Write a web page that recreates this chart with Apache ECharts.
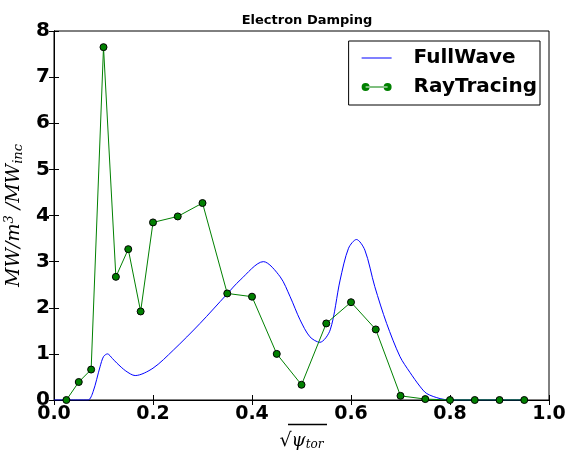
<!DOCTYPE html>
<html>
<head>
<meta charset="utf-8">
<script src="https://cdn.jsdelivr.net/npm/echarts@6/dist/echarts.min.js"></script>
<style>html,body{margin:0;padding:0;background:#fff;}#c{width:569px;height:455px;}</style>
</head>
<body>
<div id="c"></div>
<script>
const xTicks = [0.0, 0.2, 0.4, 0.6, 0.8, 1.0];
const yTicks = [0, 1, 2, 3, 4, 5, 6, 7, 8];

const fullWaveX = [0.0, 0.05, 0.069, 0.079, 0.093, 0.1, 0.108, 0.118, 0.127, 0.145, 0.164, 0.2, 0.241, 0.295, 0.349, 0.376, 0.423, 0.457, 0.477, 0.497, 0.517, 0.537, 0.558, 0.578, 0.595, 0.611, 0.628, 0.648, 0.672, 0.699, 0.719, 0.739, 0.753, 0.78, 0.8, 0.9, 0.95];
const fullWaveY = [0.0, 0.0, 0.0, 0.18, 0.72, 0.94, 1.0, 0.9, 0.8, 0.63, 0.53, 0.69, 1.08, 1.66, 2.29, 2.6, 3.0, 2.67, 2.24, 1.74, 1.37, 1.25, 1.52, 2.6, 3.29, 3.48, 3.25, 2.46, 1.66, 0.94, 0.6, 0.3, 0.14, 0.03, 0.0, 0.0, 0.0];

const rayX = [0.025, 0.05, 0.075, 0.1, 0.125, 0.15, 0.175, 0.2, 0.25, 0.3, 0.35, 0.4, 0.45, 0.5, 0.55, 0.6, 0.65, 0.7, 0.75, 0.8, 0.85, 0.9, 0.95];
const rayY = [0.0, 0.39, 0.66, 7.65, 2.67, 3.27, 1.92, 3.85, 3.98, 4.27, 2.31, 2.24, 1.0, 0.33, 1.66, 2.12, 1.53, 0.09, 0.02, 0.0, 0.0, 0.0, 0.0];

const chart = echarts.init(document.getElementById('c'), null, {renderer: 'canvas'});
const font = 'DejaVu Sans';
const axisCommon = {
  axisLine: {show: true, lineStyle: {color: '#000', width: 1}},
  axisTick: {show: true, inside: true, length: 5, lineStyle: {color: '#000'}},
  splitLine: {show: false}
};
const lineIcon = 'path://M0,3.5L30,3.5L30,4.5L0,4.5Z';
const markIcon = 'path://M0,4A4,4 0 1,0 8,4A4,4 0 1,0 0,4Z M22,4A4,4 0 1,0 30,4A4,4 0 1,0 22,4Z M4,3.4L26,3.4L26,4.6L4,4.6Z';
chart.setOption({
  animation: false,
  backgroundColor: '#fff',
  title: {
    text: 'Electron Damping', left: 302, top: 9, textAlign: 'center',
    textStyle: {fontFamily: font, fontWeight: 'bold', fontSize: 13, color: '#000'}
  },
  grid: {left: 54, right: 20, top: 31, bottom: 55, show: true, borderColor: '#000', borderWidth: 1,
    containLabel: false, outerBoundsMode: 'none'},
  legend: {
    right: 29, top: 41, orient: 'vertical',
    borderColor: '#000', borderWidth: 1, padding: [7, 3, 8, 13],
    itemWidth: 30, itemHeight: 8, itemGap: 9,
    textStyle: {fontFamily: font, fontWeight: 'bold', fontSize: 20, lineHeight: 20, color: '#000', padding: [0, 0, 0, 17]},
    data: [
      {name: 'FullWave', icon: lineIcon, itemStyle: {color: '#0000ff', borderWidth: 0}},
      {name: 'RayTracing', icon: markIcon, itemStyle: {color: '#008000', borderWidth: 0}}
    ]
  },
  xAxis: [
    Object.assign({}, axisCommon, {
      type: 'value', min: 0, max: 1, interval: 0.2,
      name: '{r|√}{p|ψ}{s|tor}', nameLocation: 'middle', nameGap: 31,
      nameTextStyle: {
        rich: {
          r: {fontFamily: 'DejaVu Serif', fontSize: 19, color: '#000'},
          p: {fontFamily: 'DejaVu Serif', fontStyle: 'italic', fontSize: 18, color: '#000'},
          s: {fontFamily: 'DejaVu Serif', fontStyle: 'italic', fontSize: 12, color: '#000', verticalAlign: 'bottom', padding: [8, 0, 0, 0]}
        }
      },
      axisLabel: {fontFamily: font, fontWeight: 'bold', fontSize: 19, color: '#000', margin: 5,
        formatter: v => v.toFixed(1)}
    }),
    Object.assign({}, axisCommon, {
      type: 'value', min: 0, max: 1, interval: 0.2, position: 'top',
      axisLabel: {show: false}
    })
  ],
  yAxis: [
    Object.assign({}, axisCommon, {
      type: 'value', min: 0, max: 8, interval: 1,
      name: '{i|MW/m}{sup|3}{i| /MW}{sub|inc}', nameLocation: 'middle', nameGap: 26, nameRotate: 90,
      nameTextStyle: {
        rich: {
          i: {fontFamily: 'DejaVu Serif', fontStyle: 'italic', fontSize: 19, color: '#000'},
          sup: {fontFamily: 'DejaVu Serif', fontStyle: 'italic', fontSize: 13, color: '#000', verticalAlign: 'top', padding: [0, 0, 9, 0]},
          sub: {fontFamily: 'DejaVu Serif', fontStyle: 'italic', fontSize: 13, color: '#000', verticalAlign: 'bottom', padding: [9, 0, 0, 0]}
        }
      },
      axisLabel: {fontFamily: font, fontWeight: 'bold', fontSize: 20, color: '#000', margin: 4}
    }),
    Object.assign({}, axisCommon, {
      type: 'value', min: 0, max: 8, interval: 1, position: 'right',
      axisLabel: {show: false}
    })
  ],
  graphic: [{
    type: 'line', shape: {x1: 288, y1: 424.5, x2: 327, y2: 424.5},
    style: {stroke: '#000', lineWidth: 1.5}
  }],
  series: [
    {
      name: 'FullWave', type: 'line', xAxisIndex: 0, yAxisIndex: 0,
      data: fullWaveX.map((x, i) => [x, fullWaveY[i]]),
      smooth: 0.3, showSymbol: false, symbol: 'none',
      lineStyle: {color: '#0000ff', width: 1}, itemStyle: {color: '#0000ff'}, z: 2
    },
    {
      name: 'RayTracing', type: 'line', xAxisIndex: 0, yAxisIndex: 0,
      data: rayX.map((x, i) => [x, rayY[i]]),
      symbol: 'circle', symbolSize: 7,
      lineStyle: {color: '#008000', width: 1},
      itemStyle: {color: '#008000', borderColor: '#000', borderWidth: 1}, z: 3
    }
  ]
});
</script>
</body>
</html>
